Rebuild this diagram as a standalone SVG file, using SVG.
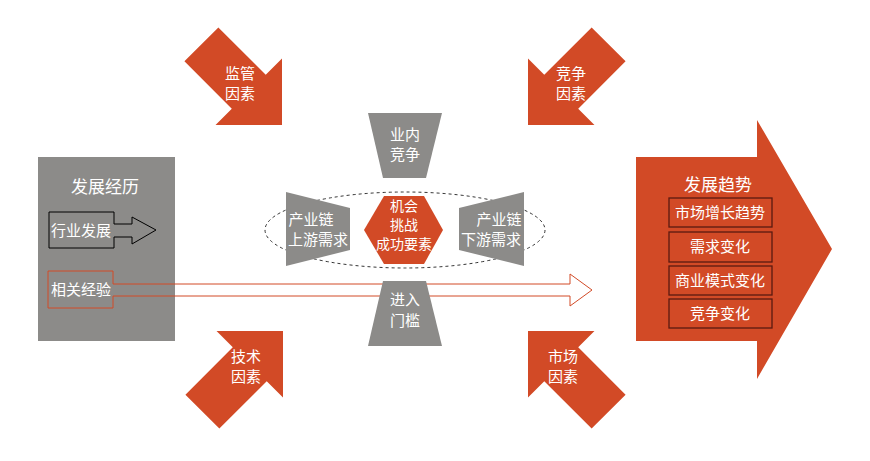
<svg xmlns="http://www.w3.org/2000/svg" width="870" height="461" viewBox="0 0 870 461">
<style>
text{font-family:"Microsoft YaHei","Noto Sans CJK SC",sans-serif;fill:#fff;text-anchor:middle;font-size:15px}
.o{fill:#d24a26}.g{fill:#8c8b89}
.ib{fill:#d24a26;stroke:#5a1a10;stroke-width:1.3}
.s{font-size:14px}
</style>
<defs><polygon id="da" points="0,0 -47,-47 -47,-24 -114,-24 -114,24 -47,24 -47,47"/></defs>
<rect width="870" height="461" fill="#fff"/>
<g id="left">
<rect class="g" x="38" y="157" width="137" height="184"/>
<text x="105" y="193" style="font-size:17px">发展经历</text>
</g>
<g id="industry">
<polygon points="49,212 114,212 114,224 132,224 132,217 156,230 132,244 132,237 114,237 114,248 49,248" fill="none" stroke="#000" stroke-width="1"/>
<text x="81" y="236">行业发展</text>
</g>
<g id="experience">
<polygon points="48,271 113,271 113,284 570,284 570,274 592,290 570,306 570,296 113,296 113,308 48,308" fill="none" stroke="#d24a26" stroke-width="1"/>
<text x="81" y="295">相关经验</text>
</g>
<g id="f1"><use href="#da" class="o" transform="translate(282,125) rotate(45)"/><text x="240" y="79">监管</text><text x="240" y="99">因素</text></g>
<g id="f2"><use href="#da" class="o" transform="translate(528,125) rotate(135)"/><text x="571" y="79">竞争</text><text x="571" y="99">因素</text></g>
<g id="f3"><use href="#da" class="o" transform="translate(283,331) rotate(-45)"/><text x="246" y="362">技术</text><text x="246" y="382">因素</text></g>
<g id="f4"><use href="#da" class="o" transform="translate(528,331) rotate(-135)"/><text x="563" y="362">市场</text><text x="563" y="382">因素</text></g>
<g id="connectors"><ellipse cx="405" cy="230" rx="140" ry="38" fill="none" stroke="#333" stroke-dasharray="3,3"/></g>
<g id="top"><polygon class="g" points="368,113 442,113 426,178 383,178"/><text x="405" y="140">业内</text><text x="405" y="160">竞争</text></g>
<g id="bottom"><polygon class="g" points="383,281 426,281 442,346 368,346"/><text x="405" y="305">进入</text><text x="405" y="326">门槛</text></g>
<g id="upstream"><polygon class="g" points="286,192 350,208 350,250 286,266"/><text x="311" y="225">产业链</text><text x="318" y="245">上游需求</text></g>
<g id="downstream"><polygon class="g" points="459,208 524,192 524,266 459,250"/><text x="499" y="225">产业链</text><text x="491" y="245">下游需求</text></g>
<g id="center"><polygon class="o" points="364,230 384,196 424,196 443,230 424,264 384,264"/><text class="s" x="404" y="211">机会</text><text class="s" x="404" y="230">挑战</text><text class="s" x="404" y="249">成功要素</text></g>
<g id="trend">
<polygon class="o" points="636,157 757,157 757,120 832,249 757,379 757,341 636,341"/>
<text x="718" y="191" style="font-size:17px">发展趋势</text>
<rect class="ib" x="669" y="198" width="103" height="29"/><text x="720" y="218">市场增长趋势</text>
<rect class="ib" x="669" y="232" width="103" height="30"/><text x="720" y="252">需求变化</text>
<rect class="ib" x="669" y="266" width="103" height="29"/><text x="720" y="286">商业模式变化</text>
<rect class="ib" x="669" y="299" width="103" height="29"/><text x="720" y="319">竞争变化</text>
</g>
</svg>
